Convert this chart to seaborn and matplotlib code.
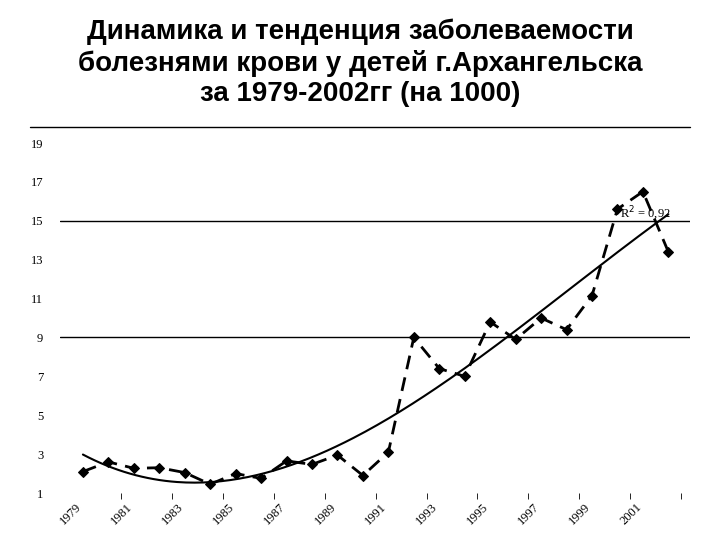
import numpy as np
import pandas as pd
import matplotlib
matplotlib.use("Agg")
import matplotlib.pyplot as plt
import seaborn as sns

years = list(range(1979, 2003))
values = [2.1, 2.6, 2.27, 2.3, 2.05, 1.45, 2.0, 1.75, 2.65, 2.47, 2.95, 1.9,
          3.1, 9.0, 7.4, 7.0, 9.8, 8.9, 10.0, 9.4, 11.15, 15.6, 16.5, 13.4]
ytick_vals = [1, 3, 5, 7, 9, 11, 13, 15, 17, 19]
xtick_years = list(range(1979, 2002, 2))
title = "Динамика и тенденция заболеваемости\nболезнями крови у детей г.Архангельска\nза 1979-2002гг (на 1000)"

df = pd.DataFrame({"year": years, "value": values})
sns.set_style("white")
plt.rcParams['font.family'] = ['Liberation Sans', 'DejaVu Sans']

fig = plt.figure(figsize=(7.2, 5.4), dpi=100)
fig.text(0.5, 0.965, title, ha='center', va='top', fontsize=20, fontweight='bold',
         linespacing=1.2, color='black')
fig.add_artist(plt.Line2D([30/720, 690/720], [1-127/540]*2, color='black', lw=1))

ax = fig.add_axes([60/720, 1-493/540, 630/720, 350/540])
ax.axhline(9, color='black', lw=1)
ax.axhline(15, color='black', lw=1)

t = np.arange(len(years))
coef = np.polyfit(t, values, 3)
tt = np.linspace(0, len(years)-1, 200)
ax.plot(1979 + tt, np.polyval(coef, tt), color='black', lw=1.5)

sns.lineplot(data=df, x="year", y="value", ax=ax, color='black', lw=2,
             linestyle=(0, (5, 3)), marker='D', markersize=5.5, markeredgecolor='black')

ax.text(2000.1, 15.15, "R$^2$ = 0,92", fontsize=9, family='Liberation Serif', color='black')

ax.set_xlim(1978.1, 2002.85)
ax.set_ylim(1, 19)
ax.set_yticks(ytick_vals)
ax.set_yticklabels([str(v) for v in ytick_vals], family='Liberation Serif', fontsize=9, color='black')
ax.set_xticks([y - 0.3 for y in xtick_years])
ax.set_xticklabels([str(y) for y in xtick_years], family='Liberation Serif', fontsize=9,
                   rotation=45, ha='right', rotation_mode='anchor', color='black')
ax.set_xticks([1980.5 + 2*k for k in range(12)], minor=True)
ax.tick_params(axis='x', which='major', length=0, pad=6)
ax.tick_params(axis='x', which='minor', length=4, direction='out', bottom=True, color='black')
ax.tick_params(axis='y', length=0, pad=12)
ax.set_xlabel("")
ax.set_ylabel("")
for s in ax.spines.values():
    s.set_visible(False)

fig.savefig("out.png", dpi=100)
